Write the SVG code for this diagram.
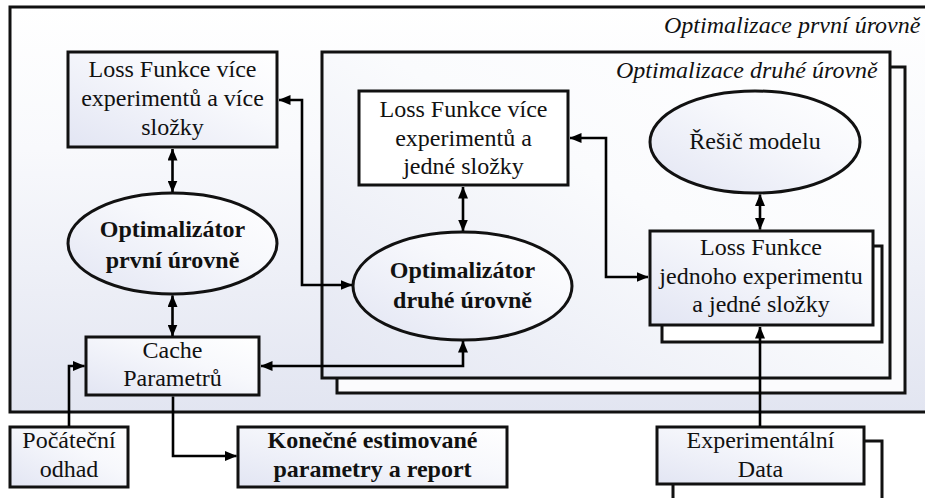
<svg xmlns="http://www.w3.org/2000/svg" width="925" height="498" viewBox="0 0 925 498">
  <defs>
    <!-- soft lavender-to-white fill used by frames and nodes -->
    <linearGradient id="nodeFill" x1="0" y1="1" x2="1" y2="0">
      <stop offset="0" stop-color="#e2e5f3"/>
      <stop offset="0.6" stop-color="#f7f8fc"/>
      <stop offset="1" stop-color="#ffffff"/>
    </linearGradient>
    <linearGradient id="outerFill" x1="0" y1="0" x2="0" y2="1">
      <stop offset="0" stop-color="#ffffff"/>
      <stop offset="0.35" stop-color="#f8f9fc"/>
      <stop offset="1" stop-color="#e2e5f1"/>
    </linearGradient>
    <linearGradient id="innerFill" x1="0" y1="1" x2="1" y2="0">
      <stop offset="0" stop-color="#e3e6f2"/>
      <stop offset="0.55" stop-color="#fafbfd"/>
      <stop offset="1" stop-color="#ffffff"/>
    </linearGradient>
    <marker id="arrow" viewBox="0 0 12 10" refX="11.5" refY="5" markerWidth="12" markerHeight="10" markerUnits="userSpaceOnUse" orient="auto-start-reverse">
      <path d="M0,0 L12,5 L0,10 Z" fill="#000"/>
    </marker>
    <style>
      .frame { stroke: #111; stroke-width: 3; }
      .box { fill: url(#nodeFill); stroke: #111; stroke-width: 3; }
      .plain { fill: #fff; stroke: #111; stroke-width: 3; }
      .txt { font-family: "Liberation Serif", "Times New Roman", serif; font-size: 24px; fill: #111; text-anchor: middle; }
      .bold { font-weight: bold; }
      .title { font-family: "Liberation Serif", "Times New Roman", serif; font-size: 24px; font-style: italic; fill: #111; }
      .link { fill: none; stroke: #000; stroke-width: 2.6; }
      .both { marker-start: url(#arrow); marker-end: url(#arrow); }
      .one { marker-end: url(#arrow); }
    </style>
  </defs>

  <!-- first-level optimisation frame -->
  <g id="frame-first-level">
    <rect class="frame" x="10" y="7" width="930" height="405" fill="url(#outerFill)"/>
    <text class="title" x="664" y="33">Optimalizace první úrovně</text>
  </g>

  <!-- second-level optimisation frame (stacked) -->
  <g id="frame-second-level">
    <rect class="frame" x="337" y="67" width="568" height="326" fill="#fbfbfd"/>
    <rect class="frame" x="322" y="52" width="568" height="326" fill="url(#innerFill)"/>
    <text class="title" x="616" y="78">Optimalizace druhé úrovně</text>
  </g>

  <g id="loss-multi-multi">
    <rect class="box" x="68" y="52" width="209" height="95"/>
    <text class="txt" x="172.5" y="77">Loss Funkce více</text>
    <text class="txt" x="172.5" y="106">experimentů a více</text>
    <text class="txt" x="172.5" y="135">složky</text>
  </g>

  <g id="optimizer-first">
    <ellipse class="box" cx="172.5" cy="243.5" rx="104.5" ry="50.5"/>
    <text class="txt bold" x="172.5" y="237">Optimalizátor</text>
    <text class="txt bold" x="172.5" y="268">první úrovně</text>
  </g>

  <g id="cache">
    <rect class="box" x="86" y="337" width="173" height="58"/>
    <text class="txt" x="172.5" y="358">Cache</text>
    <text class="txt" x="172.5" y="386">Parametrů</text>
  </g>

  <g id="loss-multi-single">
    <rect class="plain" x="359" y="91" width="209" height="94"/>
    <text class="txt" x="463.5" y="117">Loss Funkce více</text>
    <text class="txt" x="463.5" y="146">experimentů a</text>
    <text class="txt" x="463.5" y="174">jedné složky</text>
  </g>

  <g id="optimizer-second">
    <ellipse class="box" cx="462.5" cy="286" rx="109.5" ry="54"/>
    <text class="txt bold" x="462.5" y="278">Optimalizátor</text>
    <text class="txt bold" x="462.5" y="308">druhé úrovně</text>
  </g>

  <g id="model-solver">
    <ellipse class="box" cx="755" cy="142" rx="105" ry="51"/>
    <text class="txt" x="755" y="149">Řešič modelu</text>
  </g>

  <g id="loss-single-single">
    <rect class="plain" x="662" y="246" width="220" height="96"/>
    <rect class="box" x="650" y="231" width="223" height="94"/>
    <text class="txt" x="761" y="255">Loss Funkce</text>
    <text class="txt" x="761" y="284">jednoho experimentu</text>
    <text class="txt" x="761" y="312">a jedné složky</text>
  </g>

  <g id="initial-guess">
    <rect class="box" x="10" y="427" width="118" height="60"/>
    <text class="txt" x="69" y="448">Počáteční</text>
    <text class="txt" x="69" y="477">odhad</text>
  </g>

  <g id="final-report">
    <rect class="box" x="238" y="427" width="269" height="60"/>
    <text class="txt bold" x="372.5" y="448">Konečné estimované</text>
    <text class="txt bold" x="372.5" y="477">parametry a report</text>
  </g>

  <g id="experimental-data">
    <rect class="plain" x="673" y="441" width="209" height="62"/>
    <rect class="box" x="657" y="427" width="207" height="57"/>
    <text class="txt" x="760.5" y="448">Experimentální</text>
    <text class="txt" x="760.5" y="477">Data</text>
  </g>

  <g id="connectors">
    <path class="link both" d="M172.5,149 V192"/>
    <path class="link both" d="M172.5,295.5 V336"/>
    <path class="link both" d="M279,100 H302 V285 H352"/>
    <path class="link both" d="M261,366 H463 V341"/>
    <path class="link both" d="M463,187 V231"/>
    <path class="link both" d="M570,138 H606 V277 H648"/>
    <path class="link both" d="M760,194.5 V229.5"/>
    <path class="link one" d="M760,426 V327"/>
    <path class="link one" d="M69,426 V366 H84.5"/>
    <path class="link one" d="M173,396.5 V456 H236.5"/>
  </g>
</svg>
